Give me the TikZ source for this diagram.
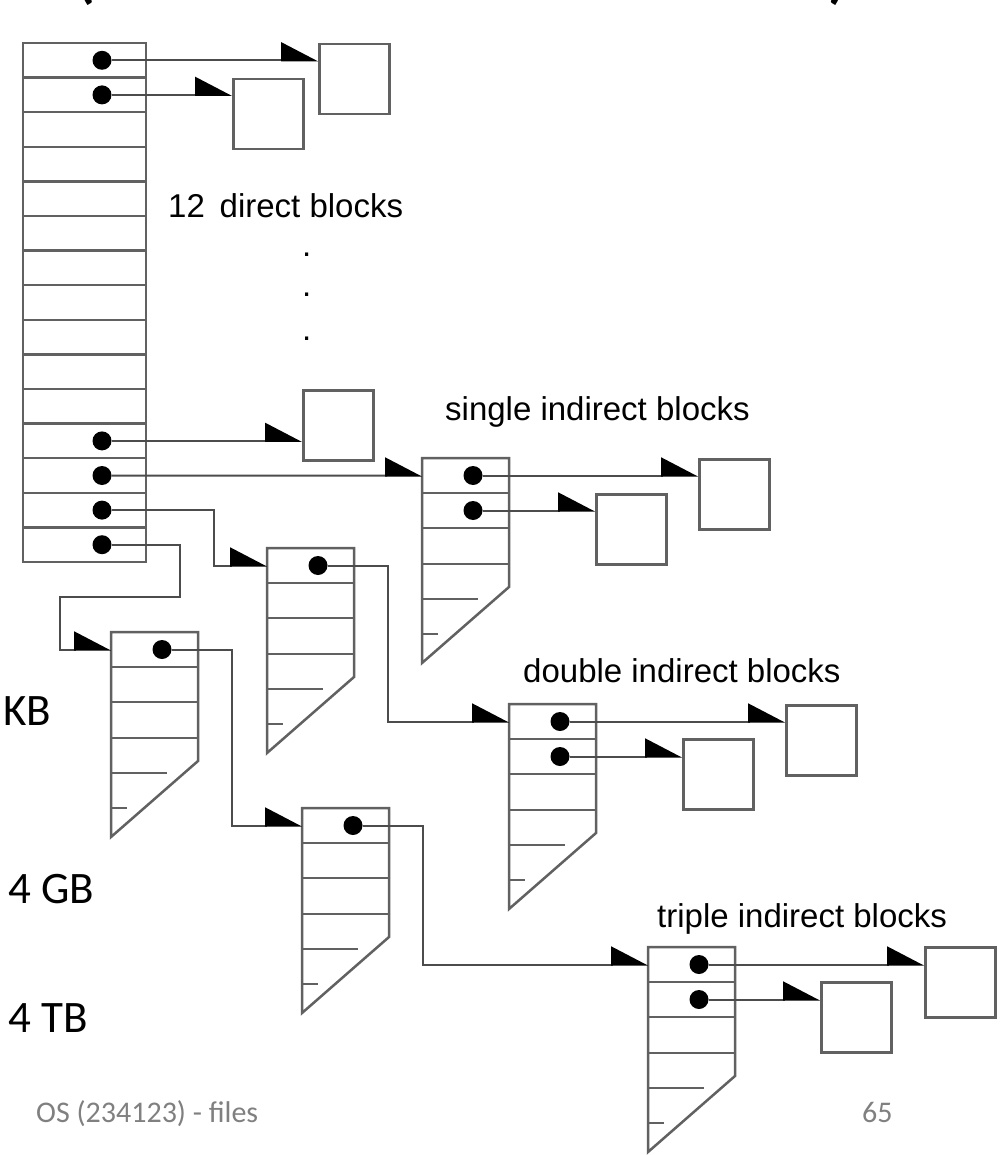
\documentclass[tikz,border=0pt]{standalone}
\usepackage{fontspec}
\setmainfont{Liberation Sans}
\newfontfamily\calibri{Carlito}
\usetikzlibrary{arrows.meta}

\begin{document}
\begin{tikzpicture}[x=1pt, y=-1pt,
		blk/.style={draw=black!62, line width=2.5pt},
		link/.style={draw=black!70, line width=2pt},
		mui/.style={-{Triangle[harpoon, length=35pt, width=36pt, color=black]}},
		ptr/.style={circle, fill=black, inner sep=0pt, minimum size=19pt},
		datablk/.style={rectangle, draw=black!62, line width=2.5pt, minimum size=70pt, inner sep=0pt, anchor=north west},
		nhan/.style={font=\fontsize{33}{40}\selectfont, inner sep=0pt, anchor=base west},
		chu/.style={font=\calibri\fontsize{45}{54}\selectfont, inner sep=0pt, anchor=base west}]
	
	% Khung trang
	\useasboundingbox (0,0) rectangle (1005,1155);
	\fill[white] (0,0) rectangle (1005,1155);
	
	% Định nghĩa kích thước bảng inode
	\def\rows{15}
	\def\rowh{34.6}
	
	% --- BẢNG INODE ---
	\draw[blk] (23,43) rectangle (146,{43+\rowh*\rows});
	\foreach \r in {1,...,14} {
		\draw[blk] (23,{43+\rowh*\r}) -- (146,{43+\rowh*\r});
	}
	% Các con trỏ trong bảng (hàng 0, 1, 11 - 14)
	\foreach \r in {0,1,11,12,13,14} {
		\node[ptr] (p\r) at (102,{43+\rowh*(\r+0.5)}) {};
	}
	
	% --- KHỐI GIÁN TIẾP (tên, x, y góc trên trái) ---
	\def\khoi#1#2#3{%
		\draw[blk] (#2,#3) -- ++(87,0) -- ++(0,129) -- (#2,#3+205) -- cycle;
		\foreach \d in {35,70,106} {
			\draw[blk] (#2,#3+\d) -- ++(87,0);
		}
		\draw[blk] (#2,#3+141) -- ++(56,0);
		\draw[blk] (#2,#3+176) -- ++(16,0);
		\coordinate (#1-in) at (#2,#3+17.5);
	}
	\khoi{sgl}{422}{458}
	\khoi{dbl1}{267}{548}
	\khoi{dbl2}{509}{704}
	\khoi{tr1}{111}{632}
	\khoi{tr2}{302}{808}
	\khoi{tr3}{648}{947}
	
	% Con trỏ trong các khối gián tiếp
	\foreach \k/\x/\y in {sgl/422/458, dbl1/267/548, dbl2/509/704, tr1/111/632, tr2/302/808, tr3/648/947} {
		\node[ptr] (\k-1) at (\x+51,\y+17.5) {};
	}
	\foreach \k/\x/\y in {sgl/422/458, dbl2/509/704, tr3/648/947} {
		\node[ptr] (\k-2) at (\x+51,\y+52.5) {};
	}
	
	% --- KHỐI DỮ LIỆU ---
	\node[datablk] (d0) at (318,43) {};
	\node[datablk] (d1) at (232,78) {};
	\node[datablk] (d11) at (302,389) {};
	\node[datablk] (s1) at (698,458) {};
	\node[datablk] (s2) at (595,493) {};
	\node[datablk] (dd1) at (785,704) {};
	\node[datablk] (dd2) at (682,738) {};
	\node[datablk] (t1) at (924,946) {};
	\node[datablk] (t2) at (820,981) {};
	
	% --- MŨI TÊN ---
	% Khối trực tiếp
	\draw[link, mui] (p0) -- (p0 -| d0.west);
	\draw[link, mui] (p1) -- (p1 -| d1.west);
	\draw[link, mui] (p11) -- (p11 -| d11.west);
	% Gián tiếp đơn
	\draw[link, mui] (p12) -- (sgl-in);
	\draw[link, mui] (sgl-1) -- (sgl-1 -| s1.west);
	\draw[link, mui] (sgl-2) -- (sgl-2 -| s2.west);
	% Gián tiếp đôi
	\draw[link, mui] (p13) -- ++(112,0) |- (dbl1-in);
	\draw[link, mui] (dbl1-1) -- ++(70,0) |- (dbl2-in);
	\draw[link, mui] (dbl2-1) -- (dbl2-1 -| dd1.west);
	\draw[link, mui] (dbl2-2) -- (dbl2-2 -| dd2.west);
	% Gián tiếp ba
	\draw[link, mui] (p14) -- ++(78,0) -- ++(0,52) -- ++(-120,0) |- (tr1-in);
	\draw[link, mui] (tr1-1) -- ++(70,0) |- (tr2-in);
	\draw[link, mui] (tr2-1) -- ++(70,0) |- (tr3-in);
	\draw[link, mui] (tr3-1) -- (tr3-1 -| t1.west);
	\draw[link, mui] (tr3-2) -- (tr3-2 -| t2.west);
	
	% --- NHÃN ---
	\node[nhan] (lbdirect) at (168,218) {12\hspace{0.45em}direct blocks};
	\foreach \y in {257,297,340} {
		\node[nhan] at (302,\y) {.};
	}
	\node[nhan] (lbsingle) at (445,420) {single indirect blocks};
	\node[nhan] (lbdouble) at (523,682) {double indirect blocks};
	\node[nhan] (lbtriple) at (657,927) {triple indirect blocks};
	
	% Chữ bên trái (bị cắt)
	\node[chu] (kb) at (3,725) {KB};
	\node[chu] (gb) at (8,903) {4 GB};
	\node[chu] (tb) at (8,1032) {4 TB};
	
	% Tiêu đề bị cắt ở trên
	\node[font=\calibri\bfseries\fontsize{60}{72}\selectfont, anchor=south, inner sep=0pt] (mo) at (86,6) {(};
	\node[font=\calibri\bfseries\fontsize{60}{72}\selectfont, anchor=south, inner sep=0pt] (dong) at (838,6) {)};
	
	% Chân trang
	\node[font=\calibri\fontsize{30}{36}\selectfont, text=black!50, anchor=base west, inner sep=0pt] (chantrang) at (36,1122) {OS (234123) - files};
	\node[font=\calibri\fontsize{30}{36}\selectfont, text=black!50, anchor=base west, inner sep=0pt] (sotrang) at (862,1122) {65};
	
\end{tikzpicture}
\end{document}
